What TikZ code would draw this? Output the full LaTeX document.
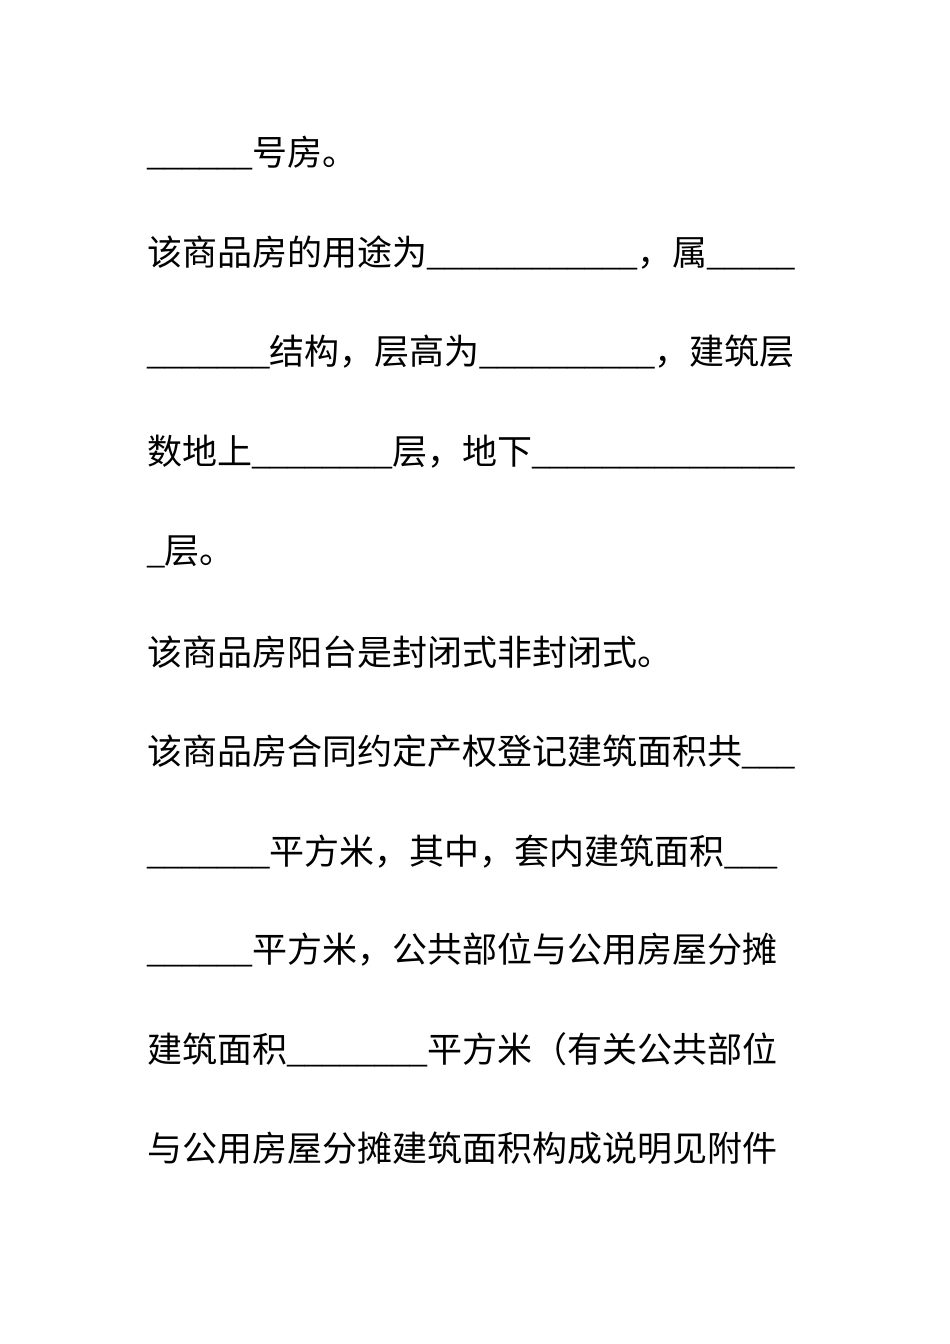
\documentclass[tikz,border=0pt]{standalone}
\usepackage{fontspec}
\setmainfont{Liberation Serif}
\newfontfamily\cjk{Noto Sans CJK SC}
\newcommand{\zh}[1]{{\cjk #1}}
\begin{document}
\begin{tikzpicture}[x=1pt,y=-1pt,every node/.style={anchor=west,inner sep=0pt,font=\fontsize{35}{35}\selectfont}]
\useasboundingbox (0,0) rectangle (950,1344);
\node (l1) at (147,153) {\_\_\_\_\_\_\zh{号房。}};
\node (l2) at (147,253) {\zh{该商品房的用途为}\_\_\_\_\_\_\_\_\_\_\_\_\zh{，属}\_\_\_\_\_};
\node (l3) at (147,352) {\_\_\_\_\_\_\_\zh{结构，层高为}\_\_\_\_\_\_\_\_\_\_\zh{，建筑层}};
\node (l4) at (147,452) {\zh{数地上}\_\_\_\_\_\_\_\_\zh{层，地下}\_\_\_\_\_\_\_\_\_\_\_\_\_\_\_};
\node (l5) at (147,552) {\_\zh{层。}};
\node (l6) at (147,652) {\zh{该商品房阳台是封闭式非封闭式。}};
\node (l7) at (147,752) {\zh{该商品房合同约定产权登记建筑面积共}\_\_\_};
\node (l8) at (147,852) {\_\_\_\_\_\_\_\zh{平方米，其中，套内建筑面积}\_\_\_};
\node (l9) at (147,950) {\_\_\_\_\_\_\zh{平方米，公共部位与公用房屋分摊}};
\node (l10) at (147,1050) {\zh{建筑面积}\_\_\_\_\_\_\_\_\zh{平方米（有关公共部位}};
\node (l11) at (147,1148) {\zh{与公用房屋分摊建筑面积构成说明见附件}};
\end{tikzpicture}
\end{document}
